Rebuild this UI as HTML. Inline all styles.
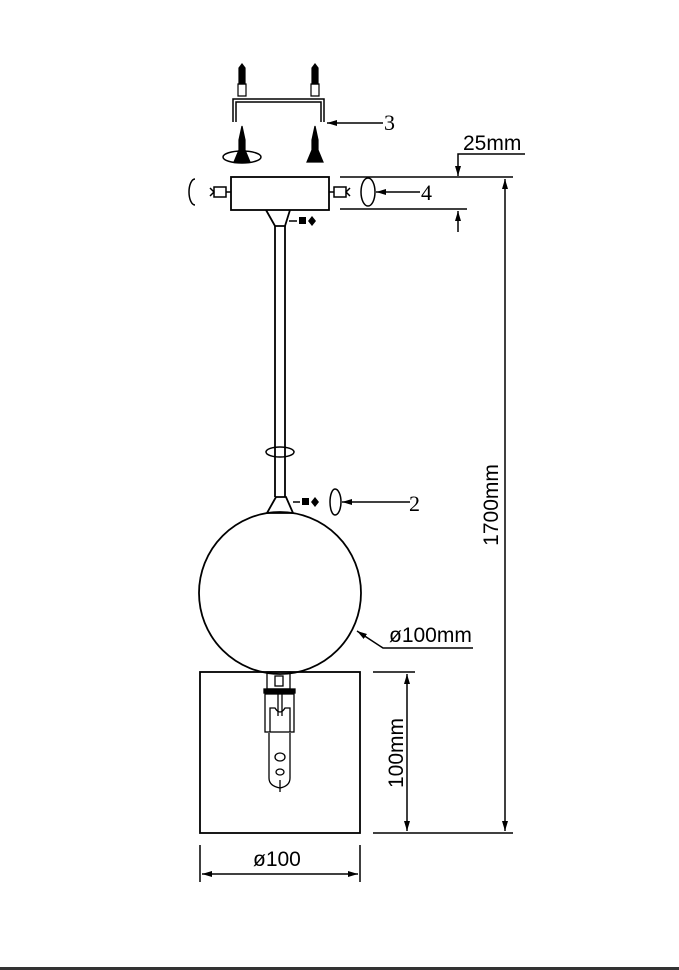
<!DOCTYPE html>
<html><head><style>html,body{margin:0;padding:0;background:#fff;}svg{display:block}</style></head>
<body>
<svg width="679" height="970" viewBox="0 0 679 970" xmlns="http://www.w3.org/2000/svg">
<defs>
<marker id="ar" markerWidth="10" markerHeight="6" refX="10" refY="3" orient="auto" markerUnits="userSpaceOnUse"><path d="M0,0 L10,3 L0,6 Z" fill="#000"/></marker>
</defs>
<g fill="none" stroke="#000" stroke-width="1.8">
<!-- bracket -->
<path d="M233,122 V99 H324 V122 M236,122 V102 H321 V122" stroke-width="1.5"/>
<!-- upper screws -->
<g stroke-width="1.2">
<path d="M239,68 L242,64 L245,68 V84 H239 Z" fill="#000"/>
<path d="M238,84 H246 V96 H238 Z"/>
<path d="M312,68 L315,64 L318,68 V84 H312 Z" fill="#000"/>
<path d="M311,84 H319 V96 H311 Z"/>
<path d="M242,126 L239,140 V150 L234,162 H250 L245,150 V140 Z" fill="#000"/>
<path d="M315,126 L312,140 V150 L307,162 H323 L318,150 V140 Z" fill="#000"/>
</g>
<ellipse cx="242" cy="157" rx="19" ry="6" stroke-width="1.5"/>
<!-- canopy -->
<rect x="231" y="177" width="98" height="33"/>
<path d="M210,188 L214,192 L210,196 M214,187 H226 V197 H214 Z M226,192 H231" stroke-width="1.5"/>
<path d="M195,179 A6,13 0 0 0 195,205" stroke-width="1.5"/>
<path d="M350,188 L346,192 L350,196 M334,187 H346 V197 H334 Z M329,192 H334" stroke-width="1.5"/>
<ellipse cx="368" cy="192" rx="7" ry="14" stroke-width="1.5"/>
<path d="M420,192 H376" marker-end="url(#ar)" stroke-width="1.5"/>
<path d="M383,123 H327" marker-end="url(#ar)" stroke-width="1.5"/>
<!-- dims top -->
<path d="M340,177 H513 M340,209 H467" stroke-width="1.5"/>
<path d="M525,154 H458 V176" marker-end="url(#ar)" stroke-width="1.5"/>
<path d="M458,232 V211" marker-end="url(#ar)" stroke-width="1.5"/>
<!-- cone & rod -->
<path d="M266,210 L275,226 H285 L290,210"/>
<path d="M275,226 V497 M285,226 V497"/>
<ellipse cx="280" cy="452" rx="14" ry="5" stroke-width="1.5"/>
<path d="M276,497 L267,513 H293 L286,497 Z"/>
<path d="M289,221 H297" stroke-width="1.5"/>
<path d="M293,502 H300" stroke-width="1.5"/>
<path d="M335,489 A5,13 0 0 0 335,515 A6,13 0 0 0 335,489" stroke-width="1.5"/>
<path d="M410,502 H342" marker-end="url(#ar)" stroke-width="1.5"/>
<!-- sphere -->
<circle cx="280" cy="593" r="81"/>
<path d="M473,648 H383 L357,631" marker-end="url(#ar)" stroke-width="1.5"/>
<!-- box -->
<rect x="200" y="672" width="160" height="161"/>
<!-- holder -->
<g stroke-width="1.3">
<rect x="267" y="672" width="23" height="17"/>
<rect x="275" y="676" width="8" height="10"/>
<rect x="264" y="689" width="31" height="4" fill="#000"/>
<rect x="265" y="694" width="29" height="38"/>
<path d="M270,732 V708 H275 Q280,716 285,708 H290 V732"/>
<path d="M278,693 V716 M282,693 V716"/>
<path d="M269,733 V778 Q269,786 280,788 Q290,786 290,778 V733"/>
<ellipse cx="280" cy="757" rx="5" ry="4"/>
<ellipse cx="280" cy="772" rx="4" ry="3"/>
<path d="M280,780 V792"/>
</g>
<!-- dims -->
<path d="M373,672 H415 M373,833 H513" stroke-width="1.5"/>
<path d="M407,752 V674" marker-end="url(#ar)" stroke-width="1.5"/>
<path d="M407,752 V831" marker-end="url(#ar)" stroke-width="1.5"/>
<path d="M505,505 V179" marker-end="url(#ar)" stroke-width="1.5"/>
<path d="M505,505 V831" marker-end="url(#ar)" stroke-width="1.5"/>
<path d="M200,845 V882 M360,845 V882" stroke-width="1.5"/>
<path d="M280,874 H202" marker-end="url(#ar)" stroke-width="1.5"/>
<path d="M280,874 H358" marker-end="url(#ar)" stroke-width="1.5"/>
</g>
<g fill="#000">
<rect x="299" y="217" width="7" height="7"/><path d="M312,216 L316,221 L312,226 L308,221 Z"/>
<rect x="302" y="498" width="7" height="7"/><path d="M315,497 L319,502 L315,507 L311,502 Z"/>
</g>
<rect x="0" y="967" width="679" height="3" fill="#333"/>
<g font-family="Liberation Sans, sans-serif" fill="#000">
<text x="384" y="130" font-family="Liberation Serif, serif" font-size="22">3</text>
<text x="421" y="200" font-family="Liberation Serif, serif" font-size="22">4</text>
<text x="409" y="511" font-family="Liberation Serif, serif" font-size="22">2</text>
<text x="463" y="150" font-size="21">25mm</text>
<text x="389" y="642" font-size="21">ø100mm</text>
<text x="253" y="866" font-size="21">ø100</text>
<text transform="translate(403,753) rotate(-90)" text-anchor="middle" font-size="21">100mm</text>
<text transform="translate(498,505) rotate(-90)" text-anchor="middle" font-size="21">1700mm</text>
</g>
</svg>
</body></html>
